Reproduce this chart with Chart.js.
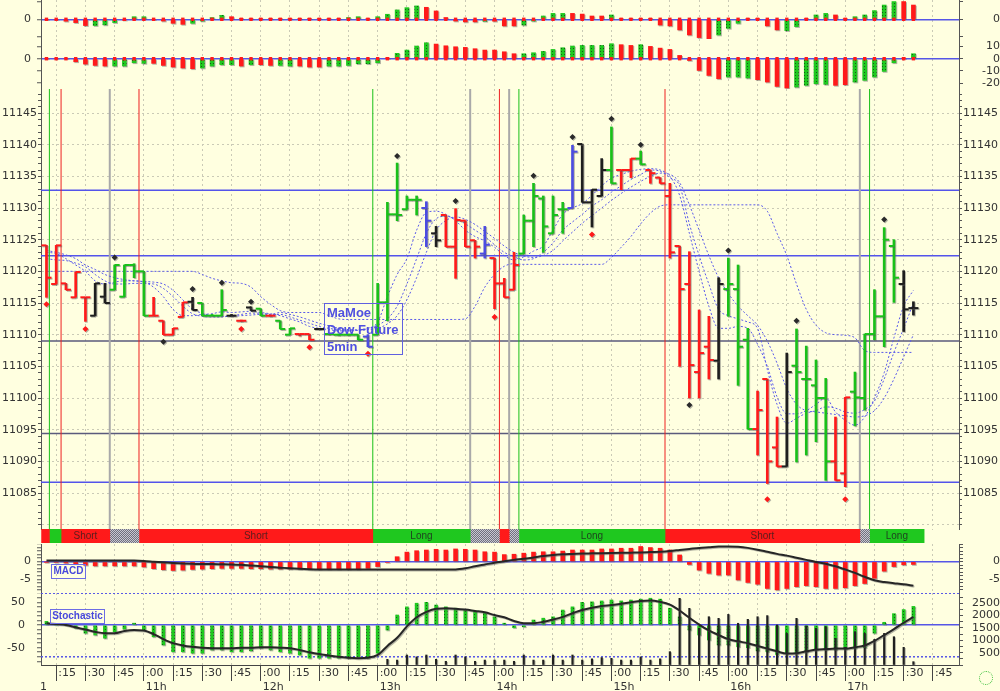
<!DOCTYPE html>
<html>
<head>
<meta charset="utf-8">
<script src="https://cdn.jsdelivr.net/npm/chart.js@4.4.1/dist/chart.umd.min.js"></script>
<style>
  html, body { margin: 0; padding: 0; background: #ffffe0; }
  body { width: 1000px; height: 691px; position: relative; overflow: hidden; font-family: "DejaVu Sans", sans-serif; }
  canvas { position: absolute; left: 0; }
  .tag { position: absolute; color: #4848dc; font: bold 10px "Liberation Sans", sans-serif; border: 1px solid #6c6ce4; box-sizing: border-box; text-align: center; line-height: 12px; z-index: 5; }
  #title { position: absolute; left: 324px; top: 303px; width: 79px; height: 52px; border: 1px solid #6060e0; box-sizing: border-box;
           color: #5050e0; font: bold 13px "Liberation Sans", sans-serif; line-height: 17px; padding: 0 0 0 2px; z-index: 5; }
  #edge { position: absolute; left: 40px; top: 680px; font: 11px "DejaVu Sans", sans-serif; color: #333; }
  #smile { position: absolute; left: 979px; top: 671px; width: 12px; height: 12px; border: 1px dotted #3cbf3c; border-radius: 50%; }
</style>
</head>
<body>
<canvas id="osc1" width="1000" height="39" style="top:0"></canvas>
<canvas id="osc2" width="1000" height="50" style="top:39px"></canvas>
<canvas id="price" width="1000" height="441" style="top:89px"></canvas>
<canvas id="strip" width="1000" height="15" style="top:529px"></canvas>
<canvas id="macd" width="1000" height="49" style="top:544px"></canvas>
<canvas id="stoch" width="1000" height="98" style="top:593px"></canvas>
<div id="title">MaMoe<br>Dow Future<br>5min</div>
<div class="tag" style="left:51px;top:564px;width:35px;height:15px;">MACD</div>
<div class="tag" style="left:50px;top:609px;width:55px;height:15px;">Stochastic</div>
<div id="edge">1</div>
<div id="smile"></div>
<script>
// 5-minute bars, Dow future
const barTimes = [
  '10:10','10:15','10:20','10:25','10:30','10:35','10:40','10:45','10:50','10:55',
  '11:00','11:05','11:10','11:15','11:20','11:25','11:30','11:35','11:40','11:45',
  '11:50','11:55','12:00','12:05','12:10','12:15','12:20','12:25','12:30','12:35',
  '12:40','12:45','12:50','12:55','13:00','13:05','13:10','13:15','13:20','13:25',
  '13:30','13:35','13:40','13:45','13:50','13:55','14:00','14:05','14:10','14:15',
  '14:20','14:25','14:30','14:35','14:40','14:45','14:50','14:55','15:00','15:05',
  '15:10','15:15','15:20','15:25','15:30','15:35','15:40','15:45','15:50','15:55',
  '16:00','16:05','16:10','16:15','16:20','16:25','16:30','16:35','16:40','16:45',
  '16:50','16:55','17:00','17:05','17:10','17:15','17:20','17:25','17:30','17:35'
];

const barOpen = [
  11124.1, 11118.0, 11118.1, 11115.9, 11115.9, 11113.0, 11116.0, 11117.1, 11116.0, 11121.0,
  11120.0, 11113.0, 11112.2, 11110.0, 11112.8, 11115.2, 11115.0, 11113.0, 11113.0, 11113.0,
  11112.2, 11114.3, 11114.1, 11113.0, 11112.2, 11110.0, 11110.1, 11110.1, 11110.9, 11110.1,
  11110.0, 11110.0, 11110.0, 11109.7, 11110.0, 11115.1, 11129.0, 11129.8, 11131.3, 11130.0,
  11126.0, 11128.9, 11123.9, 11128.0, 11124.9, 11122.8, 11122.1, 11118.1, 11117.1, 11122.8,
  11128.0, 11131.5, 11126.0, 11129.8, 11130.0, 11140.1, 11130.9, 11131.9, 11136.0, 11136.0,
  11136.0, 11137.8, 11136.0, 11134.8, 11131.9, 11124.0, 11118.0, 11104.1, 11108.1, 11105.9,
  11117.2, 11117.2, 11109.2, 11095.1, 11103.0, 11092.2, 11089.2, 11105.1, 11103.0, 11102.0,
  11100.0, 11090.0, 11088.1, 11101.0, 11100.0, 11110.1, 11112.9, 11124.0, 11118.0, 11114.2
];
const barHigh = [
  11124.1, 11124.1, 11118.1, 11119.9, 11115.9, 11118.1, 11118.1, 11121.0, 11121.0, 11121.2,
  11120.0, 11115.9, 11112.2, 11111.0, 11115.1, 11115.9, 11115.0, 11113.2, 11117.1, 11113.2,
  11112.3, 11114.4, 11114.1, 11113.1, 11112.2, 11111.0, 11110.1, 11110.1, 11111.0, 11110.1,
  11110.1, 11110.1, 11110.0, 11110.0, 11118.1, 11130.9, 11137.1, 11131.9, 11131.9, 11131.0,
  11127.1, 11128.9, 11129.9, 11128.0, 11124.9, 11127.1, 11122.1, 11118.9, 11123.0, 11128.9,
  11133.9, 11131.9, 11131.9, 11130.9, 11139.9, 11140.1, 11132.9, 11137.8, 11142.8, 11136.0,
  11137.8, 11139.0, 11136.0, 11134.8, 11133.9, 11124.0, 11123.1, 11113.9, 11112.9, 11119.0,
  11122.1, 11121.0, 11111.0, 11101.1, 11103.0, 11097.0, 11107.1, 11110.9, 11108.2, 11106.0,
  11103.1, 11097.0, 11100.1, 11104.1, 11110.1, 11117.1, 11126.9, 11125.0, 11120.1, 11115.2
];
const barLow = [
  11115.9, 11118.0, 11117.1, 11115.9, 11112.1, 11113.0, 11115.0, 11117.1, 11116.0, 11119.0,
  11113.0, 11113.0, 11110.0, 11110.0, 11112.8, 11113.9, 11113.0, 11113.0, 11113.0, 11112.9,
  11112.1, 11113.8, 11113.0, 11112.9, 11110.9, 11110.0, 11109.8, 11109.2, 11110.8, 11110.0,
  11109.9, 11109.9, 11109.2, 11108.1, 11110.0, 11112.2, 11128.0, 11129.8, 11128.9, 11123.9,
  11123.9, 11123.9, 11118.9, 11123.9, 11122.1, 11122.1, 11114.1, 11115.9, 11117.1, 11122.8,
  11123.9, 11123.0, 11126.0, 11126.0, 11130.0, 11130.9, 11127.0, 11131.9, 11133.9, 11132.9,
  11134.8, 11136.9, 11133.9, 11133.9, 11122.1, 11105.0, 11100.0, 11100.0, 11103.0, 11103.0,
  11112.9, 11102.0, 11095.1, 11091.0, 11086.5, 11089.2, 11089.2, 11089.9, 11091.0, 11093.1,
  11087.0, 11087.0, 11086.0, 11095.6, 11098.1, 11109.2, 11108.1, 11115.1, 11110.5, 11113.1
];
const barClose = [
  11119.0, 11124.1, 11117.1, 11119.9, 11115.9, 11118.1, 11115.0, 11121.0, 11121.0, 11120.0,
  11113.0, 11113.0, 11110.0, 11111.0, 11115.1, 11113.9, 11113.0, 11113.0, 11113.9, 11113.0,
  11112.2, 11113.8, 11113.0, 11113.0, 11110.9, 11111.0, 11110.1, 11109.2, 11110.9, 11110.1,
  11110.0, 11110.0, 11109.2, 11108.1, 11115.1, 11129.0, 11128.9, 11131.3, 11131.3, 11128.0,
  11124.9, 11123.9, 11128.1, 11123.9, 11123.9, 11124.2, 11118.1, 11115.9, 11121.0, 11128.0,
  11131.9, 11127.1, 11128.9, 11129.8, 11138.9, 11130.9, 11132.9, 11136.0, 11133.9, 11136.0,
  11137.8, 11136.9, 11135.5, 11133.9, 11123.0, 11117.2, 11105.2, 11107.1, 11106.0, 11118.0,
  11118.0, 11108.1, 11095.1, 11098.1, 11090.0, 11089.2, 11104.1, 11104.1, 11103.0, 11100.0,
  11090.0, 11087.0, 11100.1, 11100.1, 11110.1, 11112.9, 11125.0, 11119.0, 11114.0, 11114.2
];
// r = red, g = green, k = black, b = blue
const barColor = ('rrrrrkkggg' + 'grrrrkgggk' + 'rkgrggrrkg' + 'gggbgggggb' + 'krrrrbrrrg' +
                  'ggggbkkkgr' + 'rgrrrrrrrk' + 'gggrrrkggg' + 'grrgggggkk').split('');

const maFast = [
  11123, 11122.8, 11122, 11121, 11120, 11118.5, 11118, 11118.3, 11118.5, 11118.5,
  11118.3, 11117.5, 11116, 11114, 11113, 11113, 11113.2, 11113.3, 11113.6, 11113.5,
  11113.6, 11113.7, 11113.5, 11113.3, 11113, 11112.5, 11112, 11111.3, 11111, 11110.8,
  11110.6, 11110.6, 11110.7, 11111, 11112, 11116, 11119.5, 11122, 11126.5, 11129.3,
  11129.5, 11129, 11128, 11126.5, 11125.5, 11124.8, 11123.8, 11122.5, 11121.8, 11122.3,
  11123.2, 11124, 11126.5, 11129, 11130, 11130.7, 11132, 11133.5, 11134.7, 11135.3,
  11135.8, 11136.1, 11136.2, 11136, 11135, 11132, 11126, 11120, 11114.5, 11111,
  11111, 11111.3, 11111, 11108.5, 11105, 11100.2, 11097.5, 11097.5, 11098, 11099,
  11100, 11097.8, 11096.5, 11095.7, 11097, 11100, 11104, 11109.5, 11114.5, 11117
];
const maMid = [
  11122, 11121.8, 11121.7, 11121.3, 11120.7, 11119.5, 11118.5, 11118, 11118, 11118.1,
  11118.1, 11118, 11117.3, 11116, 11114.5, 11113.3, 11112.9, 11112.8, 11112.8, 11113,
  11113.2, 11113.4, 11113.4, 11113.2, 11113.2, 11112.8, 11112.3, 11111.8, 11111.3, 11111,
  11110.8, 11110.7, 11110.8, 11111, 11111.5, 11112.5, 11114.5, 11118, 11122, 11126,
  11128.3, 11128.7, 11128.3, 11127.5, 11126.5, 11125.5, 11124.2, 11123, 11122.3, 11121.8,
  11122, 11123, 11124.5, 11126.5, 11127.8, 11129, 11130.3, 11131.3, 11132.5, 11133.5,
  11134.5, 11135.3, 11136, 11135.8, 11134.8, 11133.5, 11127.5, 11122.5, 11118, 11114,
  11113, 11112.5, 11112, 11111, 11104.5, 11099, 11096, 11096.8, 11097.6, 11098,
  11098.6, 11098.4, 11097.8, 11097.6, 11098.2, 11099.5, 11103, 11107.2, 11111, 11115
];
const maSlow = [
  11123.3, 11123, 11122.6, 11122, 11121, 11120.3, 11119.5, 11119, 11118.7, 11118.5,
  11118.4, 11118.3, 11118, 11117, 11115.5, 11114, 11113.4, 11113, 11112.9, 11112.9,
  11113, 11113.1, 11113.2, 11113.2, 11113.5, 11113.2, 11112.8, 11112.3, 11111.8, 11111.4,
  11111, 11110.8, 11110.7, 11110.8, 11111, 11111.7, 11113, 11115.5, 11119, 11123,
  11126.5, 11128, 11128.6, 11128.2, 11127.4, 11126.3, 11125.2, 11124, 11123, 11122.4,
  11122.2, 11122.5, 11123.3, 11124.8, 11126.2, 11127.6, 11128.8, 11130, 11131.2, 11132.3,
  11133.3, 11134.2, 11135, 11135.5, 11135.3, 11134, 11130.5, 11126.5, 11122.5, 11119,
  11116.5, 11114.5, 11113, 11111.5, 11109, 11105.5, 11101.5, 11099, 11098, 11097.8,
  11097.6, 11097.4, 11097.2, 11097, 11097.2, 11098, 11100, 11103, 11106.5, 11110
];
const trailStop = [
  11120, 11120, 11120, 11120, 11120, 11120, 11120, 11120, 11120, 11120,
  11120, 11120, 11120, 11120, 11120, 11120, 11119.5, 11118.9, 11118.5, 11118.2,
  11118.1, 11117.5, 11116, 11114.8, 11113.8, 11113.5, 11113.5, 11113.5, 11113.5, 11113,
  11112.5, 11112.4, 11112.4, 11112.4, 11112.4, 11112.4, 11112.4, 11112.4, 11112.4, 11112.4,
  11112.4, 11112.4, 11112.4, 11112.5, 11114.5, 11117.5, 11119.5, 11120.8, 11121.2, 11121.1,
  11121.1, 11121.1, 11121.1, 11121.1, 11121.1, 11121.1, 11121.1, 11121.1, 11122.2, 11123.8,
  11125.5, 11127.5, 11129.2, 11130.3, 11130.5, 11130.5, 11130.5, 11130.5, 11130.5, 11130.5,
  11130.5, 11130.5, 11130.5, 11130.5, 11129.5, 11126, 11122.5, 11118, 11114, 11111.5,
  11110.3, 11110, 11109.9, 11109.5, 11107.5, 11107.2, 11107.2, 11107.2, 11107.2, 11107.2
];

const dotTimes = ['10:45','11:10','11:25','11:40','11:55','13:10','13:40','14:20','14:40','15:00','15:15','15:40','16:00','16:35','17:20',
                  '10:10','10:30','11:50','12:25','12:55','14:00','14:50','16:20','17:00'];
const dotPrice = [11122.2, 11108.9, 11117.2, 11118.2, 11115.2, 11138.2, 11131.1, 11135.1, 11141.2, 11144.1, 11140.0, 11098.9, 11123.3, 11112.2, 11128.2,
                  11114.8, 11110.9, 11110.9, 11108.0, 11107.0, 11112.8, 11125.8, 11084.0, 11084.0];
const dotColor = 'kkkkkkkkkkkkkkkrrrrrrrrr'.split('');

const levelPrice = [11132.8, 11122.45, 11109.0, 11094.4, 11086.7];
const levelKind = ['b', 'b', 'd', 'd', 'b'];

// signal strip, minutes after 10:00
const segStart = [7.5, 11.5, 17.5, 42.5, 57.5, 177.5, 227.5, 242.5, 247.5, 252.5, 327.5, 427.5, 432.5];
const segEnd = [11.5, 17.5, 42.5, 57.5, 177.5, 227.5, 242.5, 247.5, 252.5, 327.5, 427.5, 432.5, 460.5];
const segKind = ['s', 'l', 's', 'f', 's', 'l', 'f', 's', 'f', 'l', 's', 'f', 'l'];
const segText = ['', '', 'Short', '', 'Short', 'Long', '', '', '', 'Long', 'Short', '', 'Long'];

const osc1 = [
  0, 0, -1.1, -1.9, -3.6, -3.6, -3.2, -1.9, -0.4, 1.5,
  1.5, 0, -1, -2.3, -2.9, -2.3, -1, 1, 2.3, 1.5,
  0.3, 0.3, 0.3, 0.3, 0.3, 0.3, 0.3, 0.3, 0.3, 0.3,
  0.3, 1, 1.5, 0.3, 1.5, 2.9, 5.4, 6.7, 7.7, 6.9,
  4.8, 1, -1, -1.5, -1.5, -1.1, -1.1, -3.8, -3.8, -3.3,
  -1, 1.9, 3.4, 3.4, 3.4, 3, 1.9, 1.9, 2.5, 0.5,
  0.5, 0.3, 0.3, -3.3, -3.8, -6.1, -9, -10.5, -11.5, -9,
  -5.2, -2.3, 0.3, 0.3, -3.8, -6.1, -6.5, -4.2, 0.3, 2.5,
  3.4, 2.5, 0.3, 1.5, 2.5, 5, 8.2, 10.2, 10.2, 8.2
];
const osc1Color = ('rrrrrgggrg' + 'grrrrggggr' + 'rrrrrrrrrr' + 'rggrgggggr' + 'rrrrrgrrrg' +
                   'ggggrrrrgr' + 'rrrrrrrrrg' + 'ggrrrrggrg' + 'grrgggggrr').split('');
const osc2 = [
  0, 0, 0, -2.5, -4.4, -5.5, -6, -6, -6, -3.3,
  -3.8, -3.8, -5.5, -6.8, -7.6, -8.2, -7.6, -6, -4.9, -4.9,
  -6, -4.9, -4.9, -5.5, -5.5, -6, -6, -6.8, -6.8, -6,
  -6, -5.5, -4.1, -4.1, -3.3, 0.3, 4.4, 7.1, 10.4, 13.1,
  12, 10.6, 9.8, 9.3, 8.2, 7.1, 7.1, 5.7, 4.1, 4.1,
  4.9, 6, 7.6, 9, 10.4, 10.9, 10.9, 10.9, 12.3, 11.5,
  10.9, 11.5, 10.1, 8.7, 7.6, 2.7, -1.4, -9.6, -13.7, -16.4,
  -15, -15, -15.8, -17.2, -19.1, -22.7, -24, -23.2, -21.8, -20.5,
  -21, -21.8, -21.3, -19.1, -17.7, -15, -10.4, -3.3, 0.3, 4.1
];
const osc2Color = ('rrrrrrrggg' + 'grrrrrgggg' + 'rgrrggrrrg' + 'gggggrgggg' + 'rrrrrrrrrg' +
                   'gggggggggr' + 'rgrrrrrrrr' + 'gggrrrrggg' + 'grrgggggrg').split('');

const macdHist = [
  -0.1, -0.2, -0.4, -0.6, -1, -1.2, -1.2, -1.2, -1.2, -1.2,
  -1.5, -2, -2.3, -2.5, -2.4, -2.2, -2.1, -2, -1.9, -1.9,
  -1.9, -2, -2, -2.1, -2.1, -2.1, -2.1, -2.1, -2.1, -2.1,
  -2.1, -2.1, -2.1, -1.9, -1.4, -0.2, 1.4, 2.7, 3.1, 3.3,
  3.5, 3.3, 3.6, 3.5, 3.3, 2.8, 2.7, 2.0, 2.1, 2.4,
  2.7, 2.8, 2.8, 3.0, 3.3, 3.3, 3.3, 3.6, 3.6, 3.8,
  3.8, 4.3, 4.0, 3.8, 3.3, 1.9, -0.8, -2.4, -3.3, -3.8,
  -3.8, -5.2, -5.9, -6.4, -7.6, -8.0, -7.6, -7.1, -6.8, -7.1,
  -7.6, -7.6, -7.4, -6.8, -6.2, -4.7, -2.7, -1.4, -0.9, -0.8
];
const macdLine = [
  0.3, 0.3, 0.3, 0.3, 0.3, 0.3, 0.3, 0.3, 0.3, 0.3,
  0.2, 0, -0.2, -0.4, -0.5, -0.6, -0.7, -0.7, -0.75, -0.8,
  -0.9, -1.1, -1.3, -1.5, -1.7, -1.9, -2.05, -2.15, -2.2, -2.2,
  -2.2, -2.2, -2.2, -2.2, -2.2, -2.2, -2.2, -2.2, -2.2, -2.2,
  -2.2, -2.2, -2.2, -1.9, -1.3, -0.8, -0.3, 0.1, 0.5, 0.8,
  1.2, 1.6, 1.9, 2.1, 2.2, 2.3, 2.35, 2.4, 2.45, 2.5,
  2.55, 2.6, 2.7, 2.8, 3.0, 3.3, 3.6, 3.9, 4.1, 4.3,
  4.3, 4.2, 3.9, 3.4, 2.8, 2.2, 1.7, 1.1, 0.5, -0.1,
  -0.6, -1.3, -2.2, -3.2, -4.3, -5.3, -5.8, -6.1, -6.4, -6.8
];

const stochHist = [
  8, 0, 0, -7, -18, -22, -29, -15, -9, 4,
  -11, -26, -44, -59, -59, -62, -62, -55, -55, -59,
  -59, -57, -51, -55, -59, -62, -66, -73, -73, -73,
  -73, -73, -70, -73, -62, -11, 22, 40, 48, 50,
  44, 40, 37, 33, 31, 26, 18, 4, -6, -4,
  11, 15, 18, 33, 40, 50, 51, 53, 55, 53,
  55, 57, 59, 57, 37, 18, -11, -22, -33, -44,
  -44, -48, -50, -57, -59, -65, -62, -62, -59, -55,
  -55, -55, -53, -51, -50, -18, 6, 25, 34, 41
];
const stochLine = [
  4, 2, 0, -5, -10, -15, -18, -18, -13, -11,
  -12, -20, -31, -40, -45, -48, -50, -51, -51, -51,
  -50, -50, -49, -49, -50, -51, -55, -60, -64, -67,
  -70, -72, -73, -72, -66, -46, -28, -3, 17, 29,
  36, 37, 36, 34, 31, 28, 22, 17, 9, 4,
  4, 7, 12, 18, 26, 33, 38, 42, 44, 47,
  50, 53, 54, 51, 45, 32, 16, 1, -12, -22,
  -31, -36, -40, -46, -52, -58, -63, -62, -58, -54,
  -53, -52, -52, -49, -45, -35, -22, -9, 5, 18
];
const volume = [
  null, null, null, null, null, null, null, null, null, null,
  null, null, null, null, null, null, null, null, null, null,
  null, null, null, null, null, null, null, null, null, null,
  null, null, null, null, null, 230, 200, 405, 330, 405,
  230, 150, 405, 330, 150, 200, 200, 200, 150, 405,
  200, 200, 405, 200, 405, 200, 250, 300, 270, 200,
  200, 330, 200, 250, 540, 2700, 2295, 1485, 1955, 1890,
  2050, 1690, 1850, 1955, 2000, 1620, 1280, 1890, 1580, 1485,
  1550, 1080, 715, 1350, 1280, 1040, 1280, 1145, 715, 135
];

const xTickTimes = ['10:15','10:30','10:45','11:00','11:15','11:30','11:45','12:00','12:15','12:30','12:45',
  '13:00','13:15','13:30','13:45','14:00','14:15','14:30','14:45','15:00','15:15','15:30','15:45',
  '16:00','16:15','16:30','16:45','17:00','17:15','17:30','17:45'];
const xTickText = [':15',':30',':45',':00',':15',':30',':45',':00',':15',':30',':45',
  ':00',':15',':30',':45',':00',':15',':30',':45',':00',':15',':30',':45',
  ':00',':15',':30',':45',':00',':15',':30',':45'];
const hourTimes = ['11:00','12:00','13:00','14:00','15:00','16:00','17:00'];
const hourText = ['11h','12h','13h','14h','15h','16h','17h'];

// ---- layout / style ----
const X_MIN = 7.2, X_MAX = 478.4;          // minutes after 10:00 at plot edges
const P_MIN = 11079.16, P_MAX = 11148.79;
const P_LABEL_MIN = 11085;                 // lowest labelled price
const TICK_OFF = 1.3;                      // open/close tick offset, minutes
const RED = '#ff1a1a', GREEN = '#19c019', BLACK = '#1e1e1e', BLUE = '#4c4ce0', LINE_BLUE = '#5a5aea';
const COL = { r: RED, g: GREEN, k: BLACK, b: BLUE };

Chart.defaults.font.family = '"DejaVu Sans", sans-serif';
Chart.defaults.font.size = 11;
Chart.defaults.color = '#333';

function toMin(t) {
  const [h, m] = t.split(':').map(Number);
  return (h - 10) * 60 + m;
}
const barX = barTimes.map(toMin);

function makePattern(base, dark, size) {
  const p = document.createElement('canvas');
  p.width = size; p.height = size;
  const g = p.getContext('2d');
  g.fillStyle = base; g.fillRect(0, 0, size, size);
  g.fillStyle = dark;
  g.fillRect(0, 0, 1, 1);
  if (size === 2) g.fillRect(1, 1, 1, 1);
  return g.createPattern(p, 'repeat');
}
const GREEN_FILL = makePattern('#1fc81f', '#175a17', 3);
const FLAT_FILL = makePattern('#c8c8d2', '#70707e', 2);
const histFill = c => (c === 'g' ? GREEN_FILL : RED);

const shadowPlugin = {
  id: 'shadow',
  beforeDatasetDraw(chart, args) {
    if (!chart.data.datasets[args.index].shadow) return;
    const c = chart.ctx;
    c.save();
    c.shadowColor = 'rgba(90,90,90,0.45)';
    c.shadowOffsetX = 1;
    c.shadowOffsetY = 1;
    c.shadowBlur = 0;
  },
  afterDatasetDraw(chart, args) {
    if (chart.data.datasets[args.index].shadow) chart.ctx.restore();
  }
};

// keep label overflow from shrinking the plot area
function noPad(s) {
  s.paddingTop = 0; s.paddingBottom = 0; s.paddingLeft = 0; s.paddingRight = 0;
}

function xAxis(withLabels) {
  return {
    type: 'linear', min: X_MIN, max: X_MAX, offset: false,
    afterBuildTicks: s => { s.ticks = xTickTimes.map(t => ({ value: toMin(t) })); },
    afterFit: s => { s.height = withLabels ? 26 : 0; noPad(s); },
    ticks: {
      display: withLabels, autoSkip: false, maxRotation: 0, minRotation: 0,
      align: 'start', padding: -14, labelOffset: 2,
      callback: v => {
        const k = xTickTimes.findIndex(t => toMin(t) === v);
        const h = hourTimes.indexOf(xTickTimes[k]);
        return h >= 0 ? [xTickText[k], hourText[h]] : xTickText[k];
      }
    },
    grid: { color: '#cacab6', offset: false, drawTicks: withLabels, tickLength: 16, tickColor: '#444', tickWidth: 1 },
    border: { display: withLabels, color: '#444', dash: [2, 3] }
  };
}

function yAxis(o) {
  return {
    type: 'linear', position: o.pos, min: o.min, max: o.max,
    afterFit: s => { s.width = 41; noPad(s); },
    ticks: { stepSize: o.step, autoSkip: false, includeBounds: false, padding: o.pad,
             crossAlign: o.cross || 'near', callback: o.label },
    grid: { drawOnChartArea: !!o.grid, color: o.grid || 'rgba(0,0,0,0)', lineWidth: o.lw || 1,
            tickLength: o.tl || 4, tickColor: '#555', tickWidth: 1 },
    border: { color: '#555', dash: o.dash || [] }
  };
}

const zeroGrid = c => (c.tick && c.tick.value === 0 ? '#5656e6' : 'rgba(0,0,0,0)');

function baseOptions(scales) {
  return {
    responsive: false, animation: false, events: [],
    layout: { autoPadding: false, padding: 0 },
    plugins: { legend: { display: false }, tooltip: { enabled: false } },
    scales
  };
}

function oscChart(id, values, colors, yMin, yMax, leftLabel, rightLabel, rightPad) {
  new Chart(document.getElementById(id), {
    type: 'bar',
    data: {
      datasets: [
        { type: 'line', data: barX.map(x => ({ x, y: 0 })), showLine: false, pointStyle: 'rect',
          pointRadius: 2.4, pointBackgroundColor: RED, pointBorderWidth: 0, order: 1 },
        { type: 'bar', data: barX.map((x, i) => ({ x, y: values[i] })), backgroundColor: colors.map(histFill),
          barThickness: 4, grouped: false, shadow: true, order: 2 }
      ]
    },
    options: baseOptions({
      x: xAxis(false),
      y: yAxis({ pos: 'left', min: yMin, max: yMax, step: 10, pad: 6, label: leftLabel, grid: zeroGrid, lw: 1.5 }),
      yR: yAxis({ pos: 'right', min: yMin, max: yMax, step: 10, pad: rightPad, cross: 'far', label: rightLabel })
    }),
    plugins: [shadowPlugin]
  });
}

oscChart('osc1', osc1, osc1Color, -11.32, 11.09, v => (v === 0 ? '0' : ''), v => (v === 0 ? '0' : ''), 20);
oscChart('osc2', osc2, osc2Color, -24.8, 16.15, v => (v === 0 ? '0' : ''), v => String(v), 9);

// ---- price panel ----
const priceLabel = v => (v % 5 === 0 && v >= P_LABEL_MIN ? String(v) : '');
const lineStyle = { type: 'line', borderColor: LINE_BLUE, borderWidth: 1, borderDash: [2, 2], pointRadius: 0,
                    tension: 0.4, cubicInterpolationMode: 'monotone', order: 20 };
const sigColor = { l: '#19c019', s: '#ee2020', f: '#a9a9a9' };

new Chart(document.getElementById('price'), {
  type: 'line',
  data: {
    datasets: [
      ...levelPrice.map((p, k) => ({
        type: 'line', data: [{ x: X_MIN, y: p }, { x: X_MAX, y: p }],
        borderColor: levelKind[k] === 'b' ? '#5454ea' : '#5a5a7c', borderWidth: 1.5, pointRadius: 0, order: 30
      })),
      ...segStart.slice(1).map((s, k) => ({
        type: 'line', data: [{ x: s, y: P_MIN }, { x: s, y: P_MAX }],
        borderColor: sigColor[segKind[k + 1]], borderWidth: segKind[k + 1] === 'f' ? 2 : 1, pointRadius: 0, order: 25
      })),
      { ...lineStyle, data: barX.map((x, i) => ({ x, y: maFast[i] })) },
      { ...lineStyle, data: barX.map((x, i) => ({ x, y: maMid[i] })) },
      { ...lineStyle, data: barX.map((x, i) => ({ x, y: maSlow[i] })) },
      { ...lineStyle, data: barX.map((x, i) => ({ x, y: trailStop[i] })) },
      { type: 'bar', data: barX.map((x, i) => ({ x, y: [barLow[i], barHigh[i]] })),
        backgroundColor: barColor.map(c => COL[c]), barThickness: 2, minBarLength: 1, grouped: false, shadow: true, order: 10 },
      { type: 'line', showLine: false, data: barX.map((x, i) => ({ x: x - TICK_OFF, y: barOpen[i] })),
        pointStyle: 'line', pointRadius: 2.5, pointBorderWidth: 2, pointBorderColor: barColor.map(c => COL[c]), shadow: true, order: 9 },
      { type: 'line', showLine: false, data: barX.map((x, i) => ({ x: x + TICK_OFF, y: barClose[i] })),
        pointStyle: 'line', pointRadius: 2.5, pointBorderWidth: 2, pointBorderColor: barColor.map(c => COL[c]), shadow: true, order: 9 },
      { type: 'line', showLine: false, data: dotTimes.map((t, k) => ({ x: toMin(t), y: dotPrice[k] })),
        pointStyle: 'rectRot', pointRadius: 3, pointBorderWidth: 0,
        pointBackgroundColor: dotColor.map(c => (c === 'r' ? RED : '#2a2a2a')), shadow: true, order: 5 }
    ]
  },
  options: baseOptions({
    x: xAxis(false),
    y: yAxis({ pos: 'left', min: P_MIN, max: P_MAX, step: 1, pad: 1, tl: 3, label: priceLabel,
               grid: c => (c.tick && c.tick.value % 5 === 0 ? '#cacab6' : 'rgba(0,0,0,0)'), dash: [2, 3] }),
    yR: yAxis({ pos: 'right', min: P_MIN, max: P_MAX, step: 1, pad: 1, tl: 3, label: priceLabel })
  }),
  plugins: [shadowPlugin]
});

// ---- long / short strip ----
const stripText = {
  id: 'stripText',
  afterDatasetsDraw(chart) {
    const c = chart.ctx;
    c.save();
    c.font = '10px "Liberation Sans", sans-serif';
    c.textAlign = 'center';
    c.textBaseline = 'middle';
    chart.data.datasets.forEach((ds, k) => {
      if (!ds.text) return;
      const el = chart.getDatasetMeta(k).data[0];
      c.fillStyle = ds.kind === 's' ? '#5a1d1d' : '#1f3f1f';
      c.fillText(ds.text, (el.x + el.base) / 2, el.y + 0.5);
    });
    c.restore();
  }
};
new Chart(document.getElementById('strip'), {
  type: 'bar',
  data: {
    labels: ['signal'],
    datasets: segStart.map((s, k) => ({
      data: [[s, segEnd[k]]], kind: segKind[k], text: segText[k],
      backgroundColor: segKind[k] === 'f' ? FLAT_FILL : segKind[k] === 's' ? '#ff1a1a' : '#1fc81f',
      barPercentage: 1, categoryPercentage: 1, grouped: false
    }))
  },
  options: {
    responsive: false, animation: false, events: [], indexAxis: 'y',
    layout: { autoPadding: false, padding: { left: 41, right: 41, top: 0, bottom: 1 } },
    plugins: { legend: { display: false }, tooltip: { enabled: false } },
    scales: {
      x: { type: 'linear', min: X_MIN, max: X_MAX, display: false },
      y: { display: false }
    }
  },
  plugins: [stripText]
});

// ---- MACD ----
new Chart(document.getElementById('macd'), {
  type: 'bar',
  data: {
    datasets: [
      { type: 'line', data: barX.map((x, i) => ({ x, y: macdLine[i] })), borderColor: '#262626', borderWidth: 2,
        pointRadius: 0, tension: 0.4, cubicInterpolationMode: 'monotone', shadow: true, order: 1 },
      { type: 'bar', data: barX.map((x, i) => ({ x, y: macdHist[i] })), backgroundColor: RED,
        barThickness: 4, grouped: false, shadow: true, order: 2 }
    ]
  },
  options: baseOptions({
    x: xAxis(false),
    y: yAxis({ pos: 'left', min: -8.89, max: 5.0, step: 1, pad: 6, label: v => (v === 0 || v === -5 ? String(v) : ''),
               grid: zeroGrid, lw: 1.5 }),
    yR: yAxis({ pos: 'right', min: -8.89, max: 5.0, step: 1, pad: 16, cross: 'far',
                label: v => (v === 0 || v === -5 ? String(v) : '') })
  }),
  plugins: [shadowPlugin]
});

// ---- Stochastic + volume ----
new Chart(document.getElementById('stoch'), {
  type: 'bar',
  data: {
    datasets: [
      { type: 'line', data: barX.map((x, i) => ({ x, y: stochLine[i] })), borderColor: '#262626', borderWidth: 2,
        pointRadius: 0, tension: 0.4, cubicInterpolationMode: 'monotone', shadow: true, order: 1 },
      { type: 'line', data: [{ x: X_MIN, y: 70 }, { x: X_MAX, y: 70 }], borderColor: '#5656e6', borderWidth: 1.5,
        borderDash: [2, 2], pointRadius: 0, order: 8 },
      { type: 'line', data: [{ x: X_MIN, y: -70 }, { x: X_MAX, y: -70 }], borderColor: '#5656e6', borderWidth: 1.5,
        borderDash: [2, 2], pointRadius: 0, order: 8 },
      { type: 'bar', yAxisID: 'yv', data: barX.map((x, i) => ({ x, y: volume[i] })), backgroundColor: '#202020',
        barThickness: 1.5, grouped: false, shadow: true, order: 3 },
      { type: 'bar', data: barX.map((x, i) => ({ x, y: stochHist[i] })), backgroundColor: GREEN_FILL,
        barThickness: 3, grouped: false, shadow: true, order: 4 }
    ]
  },
  options: baseOptions({
    x: xAxis(true),
    y: yAxis({ pos: 'left', min: -88.1, max: 70.5, step: 10, pad: 12, label: v => (v % 50 === 0 ? String(v) : ''),
               grid: zeroGrid, lw: 1.5 }),
    yv: yAxis({ pos: 'right', min: 0, max: 2915, step: 250, pad: 6, cross: 'far',
                label: v => (v > 0 && v % 500 === 0 ? String(v) : '') })
  }),
  plugins: [shadowPlugin]
});
</script>
</body>
</html>
